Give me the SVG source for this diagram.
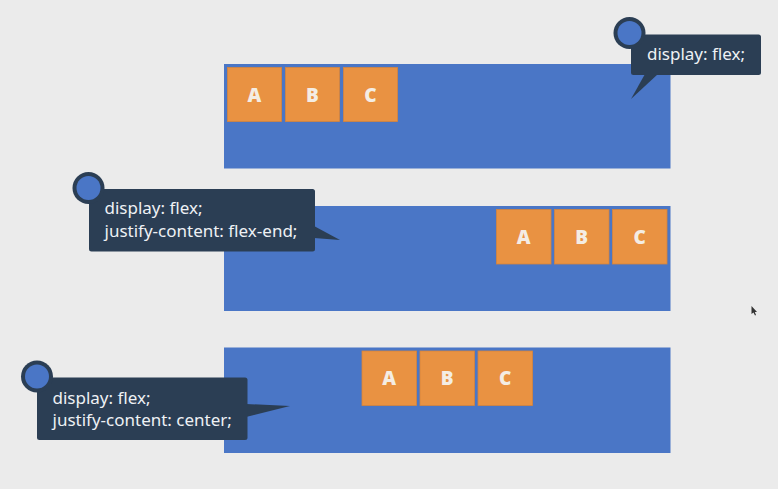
<svg xmlns="http://www.w3.org/2000/svg" width="778" height="489" viewBox="0 0 778 489">
<style>
.panel{fill:#4a76c6;}
.box{fill:#e99242;stroke:#d5843c;stroke-width:0.8;}
.lbl{font-family:"Open Sans","Noto Sans",sans-serif;font-weight:800;font-size:19px;fill:#f4ede4;text-anchor:middle;}
.tip{fill:#2b3e54;}
.tt{font-family:"Noto Sans","Open Sans",sans-serif;font-size:17px;fill:#eef1f4;}
.dotO{fill:#2b3e54;}
.dotI{fill:#4a76c6;}
</style>
<rect width="778" height="489" fill="#ebebeb"/>
<g id="panel1">
<rect class="panel" x="224" y="64" width="446.5" height="104.5"/>
<rect class="box" x="227.5" y="67.5" width="54" height="54"/><text class="lbl" x="254.5" y="101.5">A</text>
<rect class="box" x="285.5" y="67.5" width="54" height="54"/><text class="lbl" x="312.5" y="101.5">B</text>
<rect class="box" x="343.5" y="67.5" width="54" height="54"/><text class="lbl" x="370.5" y="101.5">C</text>
</g>
<g id="panel2">
<rect class="panel" x="224" y="206" width="446.5" height="105"/>
<rect class="box" x="496.5" y="209.5" width="54.5" height="54.5"/><text class="lbl" x="523.7" y="243.7">A</text>
<rect class="box" x="554.5" y="209.5" width="54.5" height="54.5"/><text class="lbl" x="581.7" y="243.7">B</text>
<rect class="box" x="612.5" y="209.5" width="54.5" height="54.5"/><text class="lbl" x="639.7" y="243.7">C</text>
</g>
<g id="panel3">
<rect class="panel" x="224" y="347.5" width="446.5" height="105.5"/>
<rect class="box" x="362" y="351" width="54.5" height="54.5"/><text class="lbl" x="389.2" y="385.2">A</text>
<rect class="box" x="420" y="351" width="54.5" height="54.5"/><text class="lbl" x="447.2" y="385.2">B</text>
<rect class="box" x="478" y="351" width="54.5" height="54.5"/><text class="lbl" x="505.2" y="385.2">C</text>
</g>
<g id="connectors">
<polygon class="tip" points="645,74 658,74 631,99"/>
<polygon class="tip" points="314,226 314,238 340,240"/>
<polygon class="tip" points="246,404 246,417 290,406"/>
</g>
<g id="tooltip1">
<rect class="tip" x="631" y="34.5" width="130" height="40.5" rx="2.5"/>
<circle class="dotO" cx="629.5" cy="33" r="16"/>
<circle class="dotI" cx="629.5" cy="33" r="12"/>
<text class="tt" x="647" y="60">display: flex;</text>
</g>
<g id="tooltip2">
<rect class="tip" x="89" y="189" width="226" height="62.5" rx="2.5"/>
<circle class="dotO" cx="88.5" cy="188" r="16"/>
<circle class="dotI" cx="88.5" cy="188" r="12"/>
<text class="tt" x="104.5" y="213.5">display: flex;</text>
<text class="tt" x="104.5" y="236.5">justify-content: flex-end;</text>
</g>
<g id="tooltip3">
<rect class="tip" x="37" y="377.5" width="210.5" height="62.5" rx="2.5"/>
<circle class="dotO" cx="37" cy="376.5" r="16"/>
<circle class="dotI" cx="37" cy="376.5" r="12"/>
<text class="tt" x="52.5" y="403.5">display: flex;</text>
<text class="tt" x="52.5" y="426">justify-content: center;</text>
</g>
<g id="cursor">
<polygon points="751.5,306 751.5,314 753.5,312.5 755,315.5 756,315 754.8,312 757,312" fill="#333"/>
</g>
</svg>
